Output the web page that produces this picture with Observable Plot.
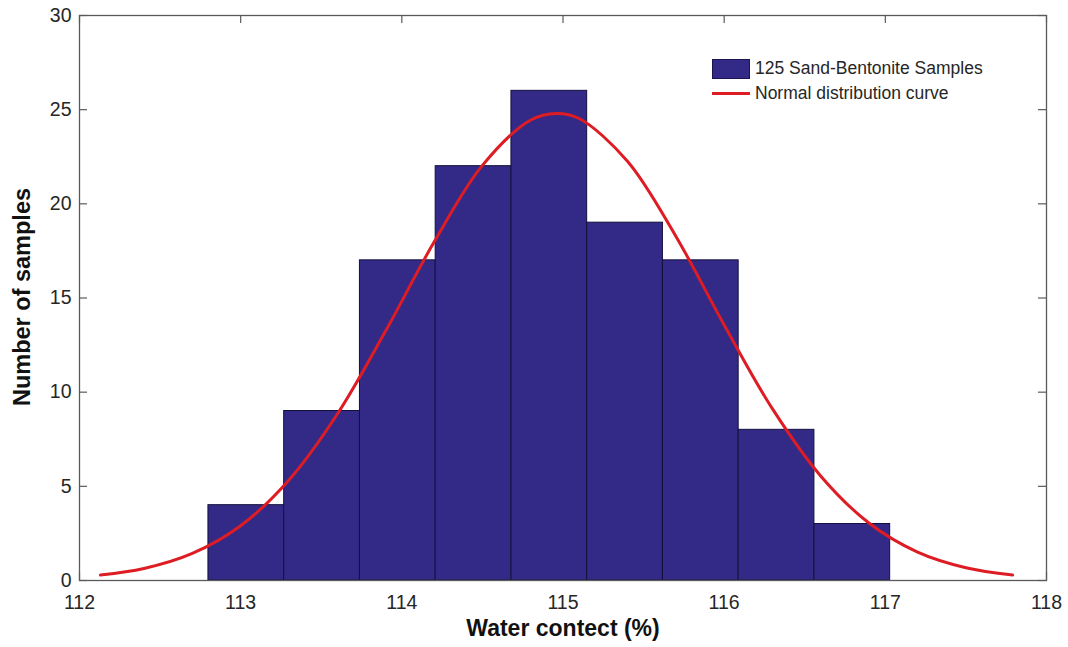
<!DOCTYPE html>
<html>
<head>
<meta charset="utf-8">
<script src="https://cdn.jsdelivr.net/npm/d3@7"></script>
<script src="https://cdn.jsdelivr.net/npm/@observablehq/plot@0.6"></script>
<style>
  html, body { margin: 0; padding: 0; background: #fff; }
  #wrap { position: relative; width: 1068px; height: 647px; font-family: "Liberation Sans", Arial, sans-serif; }
  #legend { position: absolute; left: 712px; top: 56px; font-size: 17.5px; color: #262626; }
  #legend .row { display: flex; align-items: center; height: 25px; }
  #legend .sw { width: 38px; height: 20px; background: #332a87; border: 1px solid #1a1450; box-sizing: border-box; margin-right: 5px; }
  #legend .ln { width: 38px; height: 3px; background: #dd1c24; margin-right: 5px; }
</style>
</head>
<body>
<div id="wrap"></div>
<script>
// Histogram bins (water content %, edges) and counts
const binStart = [112.80, 113.27, 113.74, 114.21, 114.68, 115.15, 115.62, 116.09, 116.56];
const binEnd   = [113.27, 113.74, 114.21, 114.68, 115.15, 115.62, 116.09, 116.56, 117.03];
const counts   = [4, 9, 17, 22, 26, 19, 17, 8, 3];

// Normal distribution curve points
const curveX = [112.13, 112.4, 112.7, 113.0, 113.3, 113.6, 113.9, 114.2, 114.5, 114.8, 114.96, 115.1, 115.4, 115.7, 116.0, 116.3, 116.6, 116.9, 117.2, 117.5, 117.79];
const curveY = [0.29, 0.64, 1.44, 2.91, 5.34, 8.84, 13.26, 17.97, 22.04, 24.45, 24.8, 24.53, 22.26, 18.28, 13.57, 9.11, 5.54, 3.04, 1.51, 0.68, 0.29];

const xTicks = [112, 113, 114, 115, 116, 117, 118];
const yTicks = [0, 5, 10, 15, 20, 25, 30];

const bars = counts.map((c, i) => ({x1: binStart[i], x2: binEnd[i], y: c}));
const curve = curveX.map((x, i) => ({x, y: curveY[i]}));

const W = 1068, H = 647;
const mL = 79, mR = 22, mT = 15, mB = 67;
const innerW = W - mL - mR, innerH = H - mT - mB;
const tickLen = 8;
const axisColor = "#5a5a5a";

const chart = Plot.plot({
  width: W,
  height: H,
  marginLeft: mL,
  marginRight: mR,
  marginTop: mT,
  marginBottom: mB,
  style: {fontFamily: "'Liberation Sans', Arial, sans-serif", color: "#262626", background: "#fff"},
  x: {domain: [112, 118], ticks: xTicks},
  y: {domain: [0, 30], ticks: yTicks},
  marks: [
    Plot.tickX(xTicks, {x: d => d, stroke: axisColor, strokeWidth: 1.2, insetTop: innerH - tickLen}),
    Plot.rectY(bars, {x1: "x1", x2: "x2", y: "y", fill: "#332a87", stroke: "#14103c", strokeWidth: 1}),
    Plot.line(curve, {x: "x", y: "y", stroke: "#dd1c24", strokeWidth: 3, curve: "catmull-rom"}),
    Plot.tickX(xTicks, {x: d => d, stroke: axisColor, strokeWidth: 1.2, insetBottom: innerH - tickLen}),
    Plot.tickY(yTicks, {y: d => d, stroke: axisColor, strokeWidth: 1.2, insetRight: innerW - tickLen}),
    Plot.tickY(yTicks, {y: d => d, stroke: axisColor, strokeWidth: 1.2, insetLeft: innerW - tickLen}),
    Plot.frame({stroke: axisColor, strokeWidth: 1.3}),
    Plot.axisX({ticks: xTicks, tickFormat: "d", tickSize: 0, tickPadding: 15, fontSize: 19.5, label: null, fill: "#262626"}),
    Plot.axisY({ticks: yTicks, tickFormat: "d", tickSize: 0, tickPadding: 8, fontSize: 19.5, label: null, fill: "#262626"}),
    Plot.text(["Water contect (%)"], {frameAnchor: "bottom", dy: 55, fontSize: 23, fontWeight: "bold", fill: "#111"}),
    Plot.text(["Number of samples"], {frameAnchor: "left", textAnchor: "middle", dx: -57, dy: -1, rotate: -90, fontSize: 23.5, fontWeight: "bold", fill: "#111"})
  ]
});

const wrap = document.getElementById("wrap");
wrap.appendChild(chart);
const legend = document.createElement("div");
legend.id = "legend";
legend.innerHTML = '<div class="row"><div class="sw"></div><span>125 Sand-Bentonite Samples</span></div>' +
                   '<div class="row"><div class="ln"></div><span>Normal distribution curve</span></div>';
wrap.appendChild(legend);
</script>
</body>
</html>
